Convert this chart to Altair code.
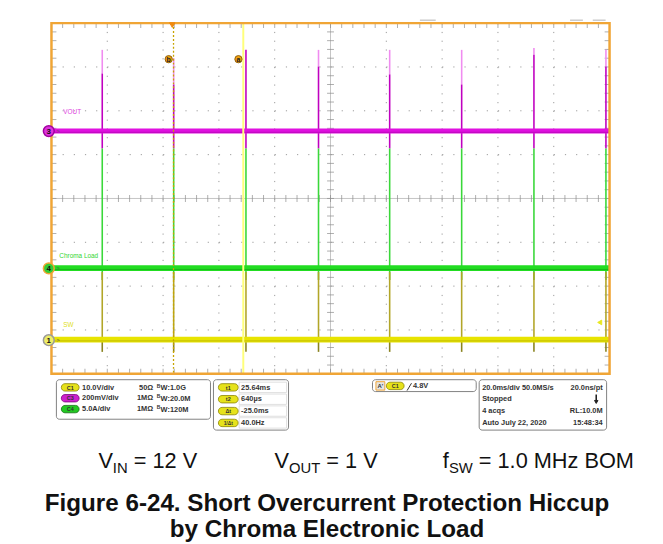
import altair as alt
import pandas as pd

T_MIN, T_MAX = -43.1, 156.9          # ms, 20 ms/div, 10 divisions (trigger at 0)
Y_MIN, Y_MAX = -4.0, 4.0             # screen divisions
spike_t = [-24.9, 0.7, 26.6, 52.6, 78.1, 103.9, 129.8, 155.6]          # hiccup restarts (ms)
vout_top = [3.39, 3.20, 3.39, 3.39, 3.39, 3.39, 3.43, 3.39]              # div
vout_dark = [2.85, 2.60, 3.39, 3.01, 2.83, 2.60, 3.28, 3.01]             # div
VOUT_BOTTOM = 1.14
LOAD_TOP, LOAD_BOTTOM = 1.14, -1.86
SW_TOP, SW_BOTTOM = -1.68, -3.50
BASE_VOUT, BASE_LOAD, BASE_SW = 1.54, -1.59, -3.22
CURSOR_A, CURSOR_B = 25.64, 0.64

XS = alt.Scale(domain=[T_MIN, T_MAX], range=[44, 609])
YS = alt.Scale(domain=[Y_MIN, Y_MAX], range=[367, 12])
NOAX = None


def X(f):
    return alt.X(f, scale=XS, axis=NOAX)


def Y(f):
    return alt.Y(f, scale=YS, axis=NOAX)


layers = []

# ---------------- grid ----------------
major = [T_MIN + 20 * k for k in range(11)]
center_t = major[5]
vgrid = pd.DataFrame({"t": [m for i, m in enumerate(major) if i not in (0, 5, 10)], "y1": Y_MAX, "y2": Y_MIN})
layers.append(alt.Chart(vgrid).mark_rule(color="#9a9a9a", strokeWidth=1, strokeDash=[1.2, 7.675]).encode(
    x=X("t:Q"), y=Y("y1:Q"), y2="y2:Q"))
hgrid = pd.DataFrame({"y": [-3, -2, -1, 1, 2, 3], "x1": T_MIN, "x2": T_MAX})
layers.append(alt.Chart(hgrid).mark_rule(color="#9a9a9a", strokeWidth=1, strokeDash=[1.2, 10.1]).encode(
    y=Y("y:Q"), x=X("x1:Q"), x2="x2:Q"))
layers.append(alt.Chart(pd.DataFrame({"y": [0], "x1": [T_MIN], "x2": [T_MAX]})).mark_rule(
    color="#c4c4c4", strokeWidth=1).encode(y=Y("y:Q"), x=X("x1:Q"), x2="x2:Q"))
layers.append(alt.Chart(pd.DataFrame({"t": [center_t], "y1": [Y_MAX], "y2": [Y_MIN]})).mark_rule(
    color="#c4c4c4", strokeWidth=1).encode(x=X("t:Q"), y=Y("y1:Q"), y2="y2:Q"))

minor_t = [T_MIN + 4 * k for k in range(1, 50)]
minor_y = [round(-4 + 0.2 * k, 2) for k in range(1, 40)]
edge_dt = 2.5 / 2.825
edge_dy = 2.5 / 44.375
tick_h = pd.DataFrame({"t": minor_t * 3,
                       "y": [0.0] * 49 + [Y_MAX - edge_dy] * 49 + [Y_MIN + edge_dy] * 49,
                       "s": [7] * 49 + [5] * 98})
layers.append(alt.Chart(tick_h).mark_tick(orient="vertical", thickness=1, color="#8c8c8c").encode(
    x=X("t:Q"), y=Y("y:Q"), size=alt.Size("s:Q", scale=None)))
tick_v = pd.DataFrame({"y": minor_y * 3,
                       "t": [center_t] * 39 + [T_MIN + edge_dt] * 39 + [T_MAX - edge_dt] * 39,
                       "s": [7] * 39 + [5] * 78})
layers.append(alt.Chart(tick_v).mark_tick(orient="horizontal", thickness=1, color="#8c8c8c").encode(
    y=Y("y:Q"), x=X("t:Q"), size=alt.Size("s:Q", scale=None)))

# ---------------- traces ----------------
rows = []
for i, t in enumerate(spike_t):
    rows.append((t, vout_top[i], vout_dark[i], "#f08cf0"))
    rows.append((t, vout_dark[i], VOUT_BOTTOM, "#c000c0"))
    rows.append((t, LOAD_TOP, LOAD_BOTTOM, "#3ad83a"))
    rows.append((t, SW_TOP, BASE_SW, "#b2a628"))
    rows.append((t, BASE_SW, SW_BOTTOM, "#8a8420"))
spikes = pd.DataFrame(rows, columns=["t", "y1", "y2", "c"])
layers.append(alt.Chart(spikes).mark_rule(strokeWidth=1.6).encode(
    x=X("t:Q"), y=Y("y1:Q"), y2="y2:Q", color=alt.Color("c:N", scale=None)))

bands = pd.DataFrame({"y": [BASE_VOUT, BASE_LOAD, BASE_SW], "x1": T_MIN, "x2": T_MAX,
                      "c": ["#e010e0", "#22dd22", "#e8e400"],
                      "w": [5, 6, 6]})
layers.append(alt.Chart(bands).mark_rule().encode(
    y=Y("y:Q"), x=X("x1:Q"), x2="x2:Q", color=alt.Color("c:N", scale=None),
    strokeWidth=alt.StrokeWidth("w:Q", scale=None)))
cores = pd.DataFrame({"y": [BASE_VOUT - 0.03, BASE_LOAD - 0.03, BASE_SW - 0.03], "x1": T_MIN, "x2": T_MAX,
                      "c": ["#9a009a", "#129a12", "#a09a10"]})
layers.append(alt.Chart(cores).mark_rule(strokeWidth=1, opacity=0.55).encode(
    y=Y("y:Q"), x=X("x1:Q"), x2="x2:Q", color=alt.Color("c:N", scale=None)))

# cursors
layers.append(alt.Chart(pd.DataFrame({"t": [CURSOR_A], "y1": [Y_MAX], "y2": [Y_MIN]})).mark_rule(
    color="#ffff7a", strokeWidth=2).encode(x=X("t:Q"), y=Y("y1:Q"), y2="y2:Q"))
layers.append(alt.Chart(pd.DataFrame({"t": [CURSOR_B], "y1": [Y_MAX], "y2": [Y_MIN]})).mark_rule(
    color="#c8a400", strokeWidth=1.3, strokeDash=[2, 2]).encode(x=X("t:Q"), y=Y("y1:Q"), y2="y2:Q"))

# frame
layers.append(alt.Chart(pd.DataFrame({"x1": [T_MIN], "x2": [T_MAX], "y1": [Y_MAX], "y2": [Y_MIN]})).mark_rect(
    fillOpacity=0, stroke="#f0a535", strokeWidth=2.5).encode(x=X("x1:Q"), x2="x2:Q", y=Y("y1:Q"), y2="y2:Q"))


# ---------------- pixel-placed decorations ----------------
def PX(v):
    return v - 8


def text_layer(rows, align="left", weight="normal", font="Liberation Sans", baseline="middle"):
    df = pd.DataFrame(rows, columns=["x", "y", "text", "color", "size"])
    df["x"] = df["x"].map(PX)
    df["y"] = df["y"].map(PX)
    return alt.Chart(df).mark_text(align=align, baseline=baseline, font=font, fontWeight=weight).encode(
        x=alt.X("x:Q", scale=None, axis=None), y=alt.Y("y:Q", scale=None, axis=None),
        text="text:N", color=alt.Color("color:N", scale=None), size=alt.Size("size:Q", scale=None))


def rect_layer(rows, radius=0, sw=1):
    df = pd.DataFrame(rows, columns=["x", "x2", "y", "y2", "fill", "stroke"])
    for c in ["x", "x2", "y", "y2"]:
        df[c] = df[c].map(PX)
    return alt.Chart(df).mark_rect(cornerRadius=radius, strokeWidth=sw).encode(
        x=alt.X("x:Q", scale=None, axis=None), x2="x2:Q",
        y=alt.Y("y:Q", scale=None, axis=None), y2="y2:Q",
        fill=alt.Fill("fill:N", scale=None), stroke=alt.Stroke("stroke:N", scale=None))


def point_layer(rows, shape="circle", sw=1):
    df = pd.DataFrame(rows, columns=["x", "y", "fill", "stroke", "size"])
    df["x"] = df["x"].map(PX)
    df["y"] = df["y"].map(PX)
    return alt.Chart(df).mark_point(shape=shape, filled=True, strokeWidth=sw, opacity=1).encode(
        x=alt.X("x:Q", scale=None, axis=None), y=alt.Y("y:Q", scale=None, axis=None),
        fill=alt.Fill("fill:N", scale=None), stroke=alt.Stroke("stroke:N", scale=None),
        size=alt.Size("size:Q", scale=None))


def line_layer(rows):
    df = pd.DataFrame(rows, columns=["x", "x2", "y", "y2", "color", "w"])
    for c in ["x", "x2", "y", "y2"]:
        df[c] = df[c].map(PX)
    return alt.Chart(df).mark_rule().encode(
        x=alt.X("x:Q", scale=None, axis=None), x2="x2:Q",
        y=alt.Y("y:Q", scale=None, axis=None), y2="y2:Q",
        color=alt.Color("color:N", scale=None), strokeWidth=alt.StrokeWidth("w:Q", scale=None))


# small gray marks above the graticule
layers.append(line_layer([(425, 441, 17, 17, "#b0b0b0", 1), (577, 590, 17, 17, "#b0b0b0", 1),
                          (600, 613, 17, 17, "#b0b0b0", 1)]))

# trigger markers
layers.append(point_layer([(174.3, 22, "#f08a10", "#f08a10", 30)], shape="triangle-down"))
layers.append(point_layer([(607, 323, "#e8e820", "#e8e820", 22)], shape="triangle-left"))

# cursor tags a / b
layers.append(point_layer([(170.7, 56.5, "#f0a010", "#7a5000", 55), (241.3, 56.5, "#f0a010", "#7a5000", 55)], sw=0.8))
layers.append(text_layer([(170.7, 57, "b", "#222222", 7), (241.3, 57, "a", "#222222", 7)], align="center", weight="bold"))

# channel ground markers
layers.append(point_layer([(49.3, 129.3, "#dd33dd", "#a000a0", 120),
                           (49.3, 268.3, "#33cc33", "#f0a535", 120),
                           (49.3, 341.0, "#eeee66", "#9a9a9a", 120)], sw=1.5))
layers.append(text_layer([(49.3, 129.8, "3", "#111111", 8), (49.3, 268.8, "4", "#111111", 8),
                          (49.3, 341.5, "1", "#111111", 8)], align="center", weight="bold"))
layers.append(text_layer([(58.5, 128.8, ">", "#555555", 6), (58.5, 267.8, ">", "#555555", 6),
                          (58.5, 340.5, ">", "#555555", 6)], align="center"))

# channel labels
layers.append(text_layer([(64, 110.5, "VOUT", "#e040e0", 6.5),
                          (60, 256, "Chroma Load", "#33d633", 6.5),
                          (64, 326, "SW", "#e0e020", 6.5)]))

# ---------------- readout panels ----------------
layers.append(rect_layer([(57, 213, 381, 421, "#ffffff", "#808080"),
                          (216, 292, 381, 432, "#ffffff", "#808080"),
                          (377, 482, 381, 393, "#ffffff", "#808080"),
                          (485, 614, 381, 432, "#ffffff", "#808080")], radius=3, sw=1))
# value cells of cursor panel
layers.append(rect_layer([(242, 290, 383.5, 394, "#ffffff", "#d8d8d8"),
                          (242, 290, 395.5, 406, "#ffffff", "#d8d8d8"),
                          (242, 290, 407.5, 418, "#ffffff", "#d8d8d8"),
                          (242, 290, 419.5, 430, "#ffffff", "#d8d8d8")], radius=0, sw=0.8))
# badges
layers.append(rect_layer([(62, 80, 385, 392.5, "#e6e21a", "#8a8400"),
                          (62, 80, 396, 403.5, "#cc22cc", "#7a007a"),
                          (62, 80, 407, 414.5, "#22c822", "#117011"),
                          (221, 241, 385, 392.5, "#e6e21a", "#8a8400"),
                          (221, 241, 397, 404.5, "#e6e21a", "#8a8400"),
                          (221, 241, 409, 416.5, "#e6e21a", "#8a8400"),
                          (221, 241, 421, 428.5, "#e6e21a", "#8a8400"),
                          (391, 409, 383.5, 391, "#e6e21a", "#8a8400")], radius=3.7, sw=0.8))
layers.append(rect_layer([(380.5, 389.5, 383, 391.5, "#e4e4e4", "#f0a535")], radius=0, sw=1))

badge_txt = [(71, 389, "C1", "#333333", 5.5), (71, 400, "C3", "#333333", 5.5), (71, 411, "C4", "#333333", 5.5),
             (231, 389, "t1", "#333333", 5.5), (231, 401, "t2", "#333333", 5.5), (231, 413, "Δt", "#333333", 5.5),
             (231, 425, "1/Δt", "#333333", 5), (400, 387.5, "C1", "#333333", 5.5), (385, 387.5, "A'", "#333333", 6)]
layers.append(text_layer(badge_txt, align="center", weight="bold"))

ch_scale = ["10.0V/div", "200mV/div", "5.0A/div"]
ch_imp = ["50Ω", "1MΩ", "1MΩ"]
ch_bw = ["W:1.0G", "W:20.0M", "W:120M"]
row_y = [389, 400, 411]
panel_rows = []
for i in range(3):
    panel_rows.append((83, row_y[i], ch_scale[i], "#333333", 7.5))
    panel_rows.append((162.5, row_y[i] + 0.8, ch_bw[i], "#333333", 7.5))
cur_vals = ["25.64ms", "640µs", "-25.0ms", "40.0Hz"]
for i, v in enumerate(cur_vals):
    panel_rows.append((244, 389 + 12 * i, v, "#333333", 7.5))
panel_rows += [(418, 387.5, "4.8V", "#333333", 7.5),
               (488, 389, "20.0ms/div 50.0MS/s", "#333333", 7.5),
               (488, 401, "Stopped", "#333333", 7.5),
               (488, 413, "4 acqs", "#333333", 7.5),
               (488, 425, "Auto   July 22, 2020", "#333333", 7.5)]
layers.append(text_layer(panel_rows, weight="bold"))
# impedance column, right-aligned so it never runs into the bandwidth text
layers.append(text_layer([(155, row_y[i], ch_imp[i], "#333333", 7.5) for i in range(3)], align="right", weight="bold"))
layers.append(text_layer([(158.5, row_y[i] - 2, "B", "#333333", 5) for i in range(3)], weight="bold"))
layers.append(text_layer([(610, 389, "20.0ns/pt", "#333333", 7.5), (610, 413, "RL:10.0M", "#333333", 7.5),
                          (610, 425, "15:48:34", "#333333", 7.5)], align="right", weight="bold"))
layers.append(line_layer([(412, 416.5, 392, 384.5, "#333333", 1), (603.5, 603.5, 396, 403, "#222222", 1.6)]))
layers.append(point_layer([(603.5, 403.5, "#222222", "#222222", 12)], shape="triangle-down"))

# ---------------- conditions line and caption ----------------
W = {' ': 278, '=': 584, '1': 556, '2': 556, '0': 556, '.': 278, 'V': 667, 'I': 278, 'N': 722,
     'O': 778, 'U': 722, 'T': 611, 'f': 278, 'S': 667, 'W': 944, 'M': 833, 'H': 722, 'z': 500, 'B': 667}
MAIN, SUB = 22, 15
cond_groups = [([("V", False), ("IN", True), (" = 12 V", False)], 149.5),
               ([("V", False), ("OUT", True), (" = 1 V", False)], 330),
               ([("f", False), ("SW", True), (" = 1.0 MHz BOM", False)], 545)]
BASE_Y = 470.5
cond_rows = []
for pieces, cx in cond_groups:
    widths = [sum(W[c] for c in s) * (SUB if sub else MAIN) / 1000 for s, sub in pieces]
    x = cx - sum(widths) / 2
    for (s, sub), w in zip(pieces, widths):
        lead = len(s) - len(s.lstrip(" "))
        fs = SUB if sub else MAIN
        cond_rows.append((x + lead * W[' '] * fs / 1000, BASE_Y + (5 if sub else 0), s.lstrip(" "), "#111111", fs))
        x += w
layers.append(text_layer(cond_rows, baseline="alphabetic"))

layers.append(text_layer([(331, 514, "Figure 6-24. Short Overcurrent Protection Hiccup", "#111111", 24.5),
                          (331, 540, "by Chroma Electronic Load", "#111111", 24.5)],
                         align="center", weight="bold", baseline="alphabetic"))

chart = alt.layer(*layers).resolve_scale(
    x="independent", y="independent", color="independent", fill="independent",
    stroke="independent", size="independent", strokeWidth="independent"
).properties(
    width=655, height=536, padding=0, background="white",
    autosize=alt.AutoSizeParams(type="none")
).configure_view(strokeWidth=0)

chart.save("out.html", embed_options={"renderer": "svg", "actions": False})
